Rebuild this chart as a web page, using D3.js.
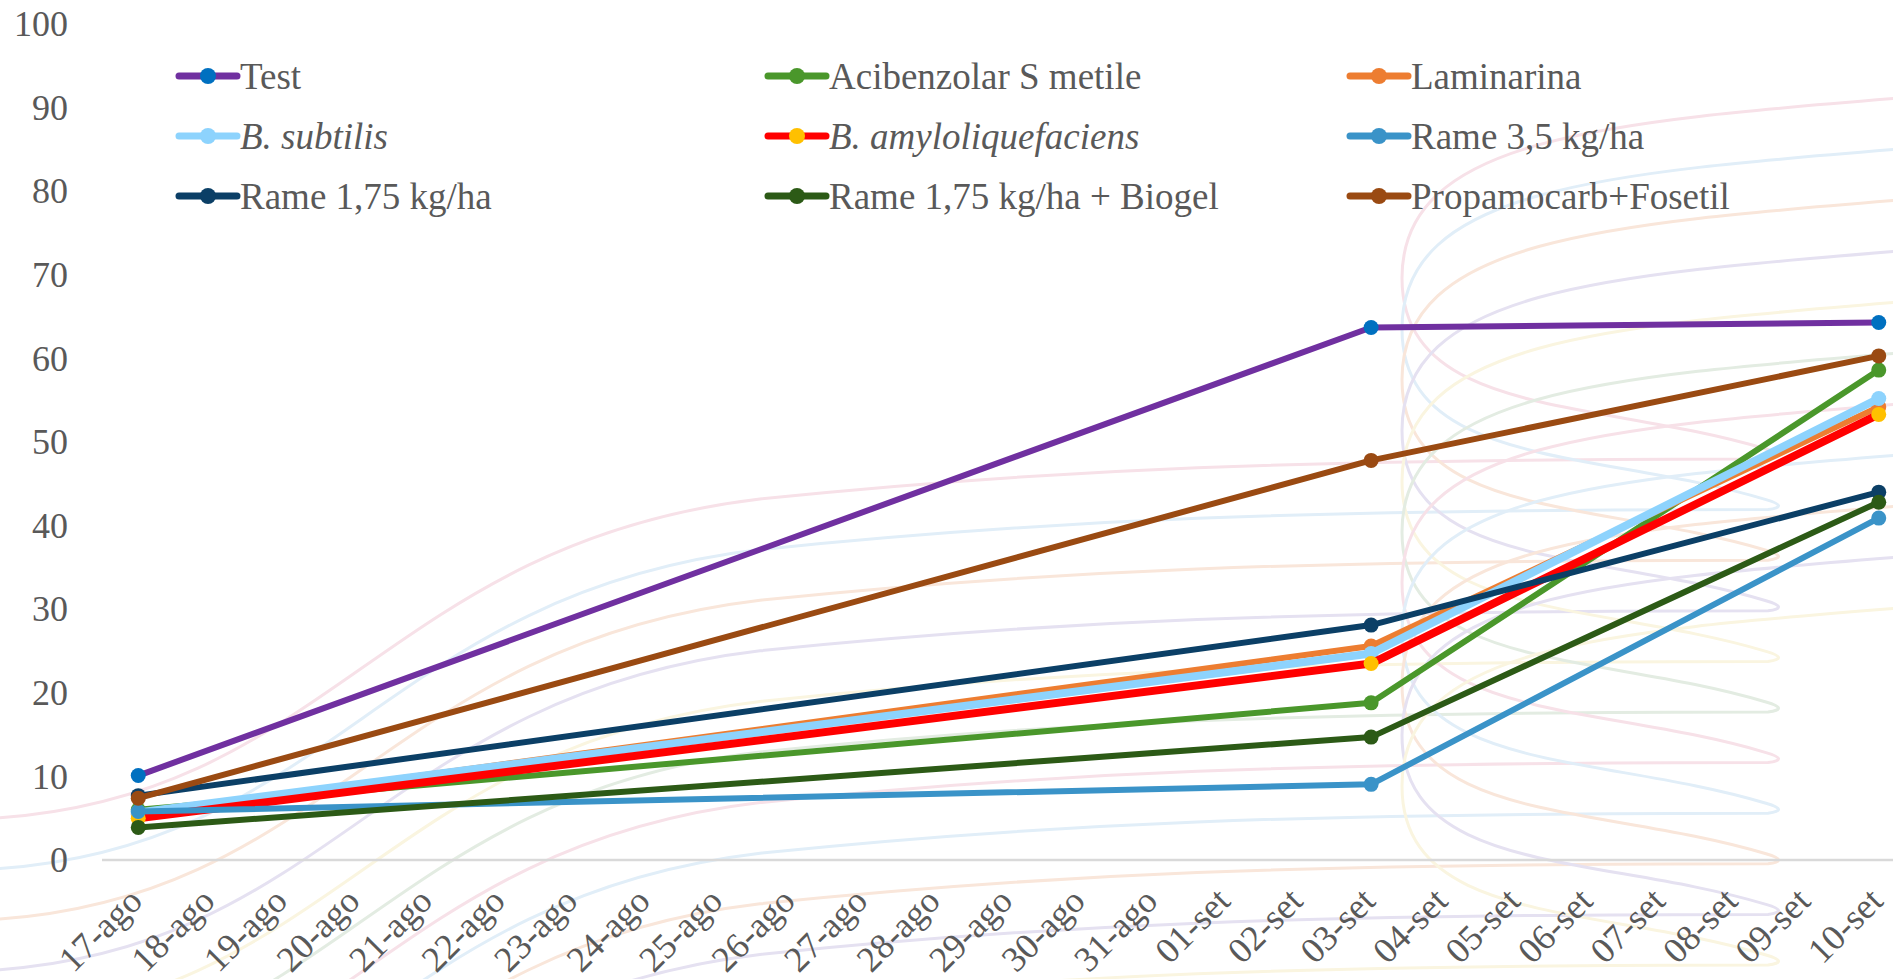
<!DOCTYPE html>
<html>
<head>
<meta charset="utf-8">
<script src="https://cdn.jsdelivr.net/npm/d3@7"></script>
<style>
  html, body { margin: 0; padding: 0; background: #ffffff; }
  svg { display: block; }
  text { font-family: "Liberation Serif", "Times New Roman", "DejaVu Serif", "Noto Serif", serif; fill: #595959; }
</style>
</head>
<body>
<svg id="chart" width="1893" height="979"></svg>
<script>
// Daily category labels on the x axis
const dayLabels = [
  "17-ago","18-ago","19-ago","20-ago","21-ago","22-ago","23-ago","24-ago","25-ago",
  "26-ago","27-ago","28-ago","29-ago","30-ago","31-ago",
  "01-set","02-set","03-set","04-set","05-set","06-set","07-set","08-set","09-set","10-set"
];
// Survey dates with observations
const surveyDates = ["17-ago", "03-set", "10-set"];

// Series names (legend order)
const seriesNames = [
  "Test", "Acibenzolar S metile", "Laminarina",
  "B. subtilis", "B. amyloliquefaciens", "Rame 3,5 kg/ha",
  "Rame 1,75 kg/ha", "Rame 1,75 kg/ha + Biogel", "Propamocarb+Fosetil"
];
const italicNames = ["B. subtilis", "B. amyloliquefaciens"];

// Values per series at each survey date
const testValues        = [10.1, 63.7, 64.3];
const acibenzolarValues = [6.0, 18.8, 58.6];
const laminarinaValues  = [5.5, 25.6, 54.2];
const subtilisValues    = [5.7, 24.7, 55.2];
const amyloValues       = [5.0, 23.5, 53.3];
const rame35Values      = [5.8, 9.05, 40.9];
const rame175Values     = [7.7, 28.1, 44.0];
const biogelValues      = [3.9, 14.7, 42.8];
const propamocarbValues = [7.4, 47.8, 60.3];

const yTicks = [0, 10, 20, 30, 40, 50, 60, 70, 80, 90, 100];

// Line / marker colours
const lineColors   = ["#7030A0", "#4A972B", "#ED7D31", "#8DD3FD", "#FF0000", "#3A93C8", "#0B3F66", "#2C5A16", "#9A4A12"];
const markerColors = ["#0070C0", "#4A972B", "#ED7D31", "#8DD3FD", "#FFC000", "#3A93C8", "#0B3F66", "#2C5A16", "#9A4A12"];
const lineWidths   = [6, 6, 6, 8, 8, 6, 6, 6, 6];

const allValues = [testValues, acibenzolarValues, laminarinaValues, subtilisValues, amyloValues,
                   rame35Values, rame175Values, biogelValues, propamocarbValues];

const series = seriesNames.map((name, i) => ({
  name,
  italic: italicNames.includes(name),
  line: lineColors[i],
  marker: markerColors[i],
  width: lineWidths[i],
  points: surveyDates.map((d, j) => ({ date: d, value: allValues[i][j] }))
}));

const svg = d3.select("#chart");

// ---- faint decorative ribbons in the background ----
// each ribbon rises from the lower left, runs flat to a hairpin on the right,
// then doubles back into a wide loop that leaves through the right edge
const bg = svg.append("g").attr("fill", "none").attr("stroke-width", 3).attr("stroke-linecap", "round");
const pastel = ["#F7E1E8", "#E1EEF8", "#F9E6DA", "#E5E1F1", "#FAF5E0", "#E3ECE2"];
for (let i = 0; i < 11; i++) {
  const yh = 459 + i * 50.6;          // flat level
  const yt = 97 + i * 51;             // exit height on the right edge
  const yc = (yh + yt) / 2;           // leftmost point of the loop
  bg.append("path")
    .attr("stroke", pastel[i % pastel.length])
    .attr("d",
      `M -20 ${yh + 360} C 330 ${yh + 345} 380 ${yh + 85} 760 ${yh + 40}` +
      ` C 1050 ${yh + 10} 1300 ${yh} 1768 ${yh}` +
      ` Q 1790 ${yh - 3} 1766 ${yh - 10}` +
      ` C 1600 ${yh - 60} 1402 ${yc + 140} 1402 ${yc}` +
      ` C 1402 ${yc - 140} 1600 ${yt + 25} 1913 ${yt}`);
}

// ---- scales ----
const x = d3.scalePoint().domain(dayLabels).range([102, 1915]).padding(0.5);
const y = d3.scaleLinear().domain([0, 100]).range([860, 24]);

// y tick labels
svg.append("g").selectAll("text").data(yTicks).join("text")
  .attr("x", 68).attr("y", d => y(d)).attr("dy", "0.34em")
  .attr("text-anchor", "end").attr("font-size", 36)
  .text(d => d);

// baseline (category axis)
svg.append("line")
  .attr("x1", 102).attr("x2", 1915)
  .attr("y1", y(0)).attr("y2", y(0))
  .attr("stroke", "#D9D9D9").attr("stroke-width", 2.5);

// x tick labels, rotated
svg.append("g").selectAll("text").data(dayLabels).join("text")
  .attr("transform", d => `translate(${x(d) + 6},${903}) rotate(-45)`)
  .attr("text-anchor", "end").attr("font-size", 36)
  .text(d => d);

// ---- series ----
const lineGen = d3.line().x(d => x(d.date)).y(d => y(d.value));
const plot = svg.append("g");
series.forEach(s => {
  const g = plot.append("g");
  g.append("path").datum(s.points)
    .attr("d", lineGen).attr("fill", "none")
    .attr("stroke", s.line).attr("stroke-width", s.width)
    .attr("stroke-linejoin", "round").attr("stroke-linecap", "round");
  g.selectAll("circle").data(s.points).join("circle")
    .attr("cx", d => x(d.date)).attr("cy", d => y(d.value))
    .attr("r", 7.5).attr("fill", s.marker);
});

// ---- legend ----
const legendCols = [179, 768, 1350];
const legendRows = [76, 136, 196];
const legend = svg.append("g");
series.forEach((s, i) => {
  const lx = legendCols[i % 3], ly = legendRows[Math.floor(i / 3)];
  const g = legend.append("g").attr("transform", `translate(${lx},${ly})`);
  g.append("line").attr("x1", 0).attr("x2", 58).attr("y1", 0).attr("y2", 0)
    .attr("stroke", s.line).attr("stroke-width", 7).attr("stroke-linecap", "round");
  g.append("circle").attr("cx", 29).attr("cy", 0).attr("r", 8).attr("fill", s.marker);
  g.append("text").attr("x", 61).attr("y", 0).attr("dy", "0.34em")
    .attr("font-size", 37)
    .attr("font-style", s.italic ? "italic" : "normal")
    .text(s.name);
});
</script>
</body>
</html>
